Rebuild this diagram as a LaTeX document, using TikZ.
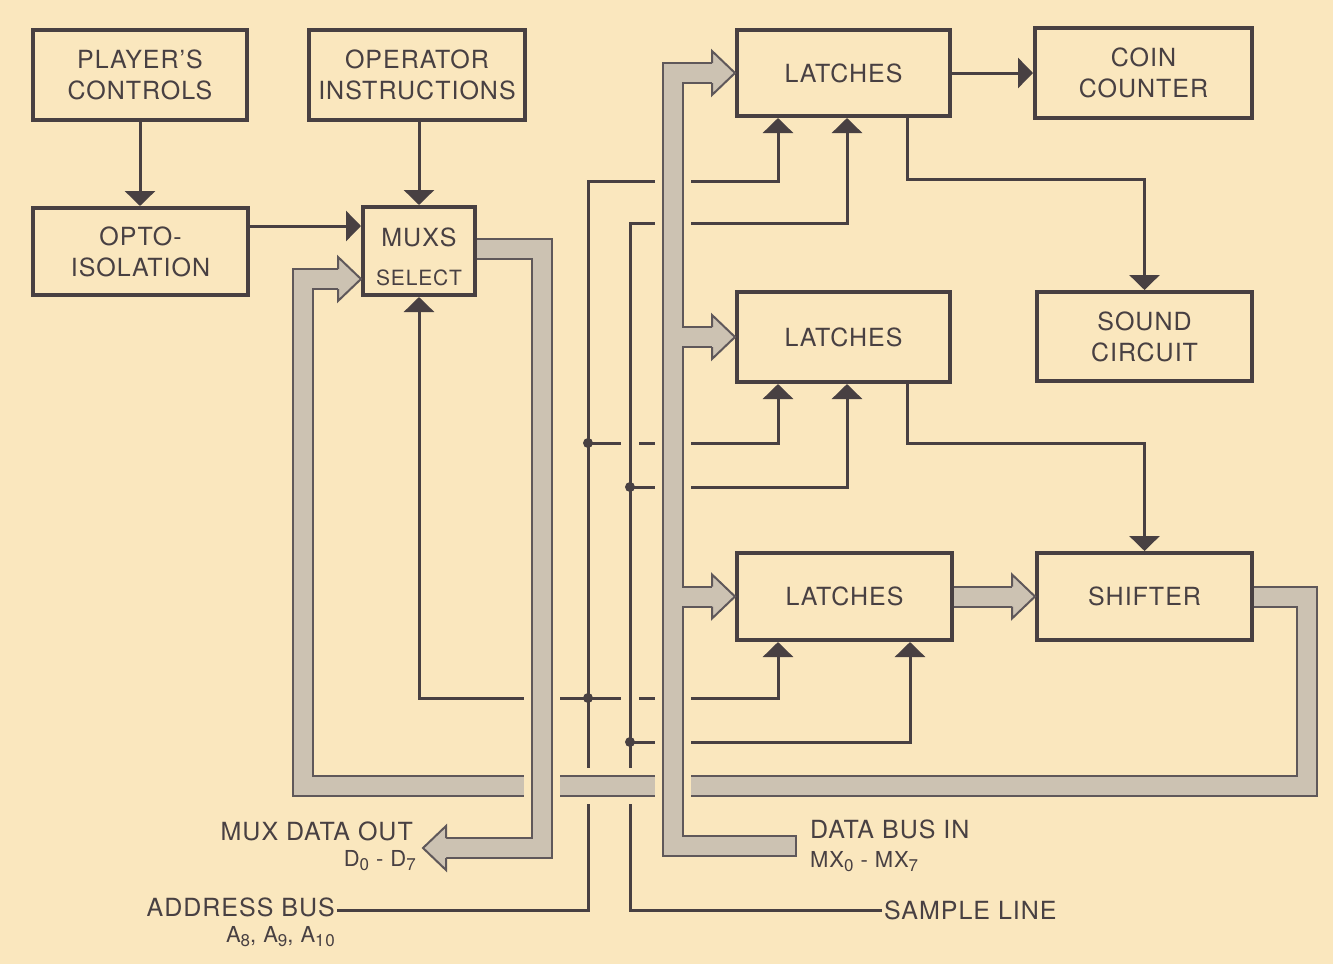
\documentclass[tikz,border=0pt]{standalone}
\usepackage{fontspec}
\setmainfont[LetterSpace=4]{TeX Gyre Heros}
\usetikzlibrary{arrows.meta,calc}
\definecolor{paper}{RGB}{250,231,190}
\definecolor{ink}{RGB}{72,64,66}
\definecolor{busfill}{RGB}{204,194,178}
\definecolor{busedge}{RGB}{95,88,90}
\newcommand\lowidx[1]{\raisebox{-0.35ex}{\fontsize{17}{17}\selectfont #1}}

\tikzset{
  pics/bushead/.style={code={
    \fill[busfill] (0,0) -- (-23,-22) -- (-23,22) -- cycle;
    \draw[busedge, line width=2pt, line join=miter]
      (-23,-10) -- (-23,-22) -- (0,0) -- (-23,22) -- (-23,10);
  }}
}

\begin{document}
\begin{tikzpicture}[x=1pt, y=-1pt, >={Triangle[length=15pt, width=30pt]},
  font=\fontsize{25}{31}\selectfont, text=ink,
  blk/.style={draw=ink, line width=4pt, fill=paper, align=center, inner sep=0pt},
  sig/.style={draw=ink, line width=3pt},
  bus/.style={draw=busfill, line width=18pt, line join=miter,
    preaction={draw=busedge, line width=22pt, line join=miter}},
  knock/.style={draw=paper, line width=36pt},
  lbl/.style={inner sep=2pt},
  sub/.style={inner sep=2pt, font=\fontsize{22}{25}\selectfont}]
  \useasboundingbox (0,0) rectangle (1333,964);
  \fill[paper] (0,0) rectangle (1333,964);

  % boxes
  \node[blk, minimum width=214pt, minimum height=90pt] (players) at (140,75) {PLAYER'S\\CONTROLS};
  \node[blk, minimum width=216pt, minimum height=90pt] (operator) at (417,75) {OPERATOR\\INSTRUCTIONS};
  \node[blk, minimum width=215pt, minimum height=87pt] (opto) at (140.5,251.5) {OPTO-\\ISOLATION};
  \node[blk, minimum width=112pt, minimum height=88pt] (mux) at (419,251) {};
  \node (muxtxt) at (419,237) {MUXS};
  \node[font=\fontsize{21}{24}\selectfont] (seltxt) at (419,278) {SELECT};
  \node[blk, minimum width=213pt, minimum height=86pt] (latchA) at (843.5,73) {LATCHES};
  \node[blk, minimum width=217pt, minimum height=90pt] (coin) at (1143.5,73) {COIN\\COUNTER};
  \node[blk, minimum width=213pt, minimum height=90pt] (latchB) at (843.5,337) {LATCHES};
  \node[blk, minimum width=215pt, minimum height=89pt] (sound) at (1144.5,336.5) {SOUND\\CIRCUIT};
  \node[blk, minimum width=215pt, minimum height=87pt] (latchC) at (844.5,596.5) {LATCHES};
  \node[blk, minimum width=215pt, minimum height=87pt] (shifter) at (1144.5,596.5) {SHIFTER};

  % control lines
  \draw[sig, ->] (players.south) -- (players.south |- opto.north);
  \draw[sig, ->] (operator.south -| mux.north) -- (mux.north);
  \draw[sig, ->] (opto.east |- 0,226) -- (mux.west |- 0,226);
  \draw[sig, ->] (latchA.east) -- (latchA.east -| coin.west);
  \draw[sig, ->] (latchA.south -| 907,0) -- (907,179) -- (sound.north |- 0,179) -- (sound.north);
  \draw[sig, ->] (latchB.south -| 907,0) -- (907,443) -- (shifter.north |- 0,443) -- (shifter.north);

  % address bus
  \node[lbl, anchor=east] (addrlbl) at (337,907) {ADDRESS BUS};
  \node[sub, anchor=north east] (addrsub) at (337,924) {A\lowidx{8}, A\lowidx{9}, A\lowidx{10}};
  \coordinate (adrbot) at (588,910);
  \coordinate (adrtop) at (588,181);
  \draw[sig, ->] (addrlbl.east |- adrbot) -- (adrbot) -- (adrtop) -- (adrtop -| 778,0) -- (latchA.south -| 778,0);
  \draw[sig, ->] (588,443) -- (778,443) -- (latchB.south -| 778,0);
  \draw[sig, <->] (mux.south) -- (mux.south |- 0,698) -- (778,698) -- (latchC.south -| 778,0);

  % sample line
  \node[lbl, anchor=west] (smplbl) at (882,910) {SAMPLE LINE};
  \coordinate (smptop) at (630,223);
  \coordinate (smpbot) at (630,910);
  \draw[knock, line width=18pt] (smptop) -- (smpbot);
  \draw[sig, ->] (smplbl.west) -- (smpbot) -- (smptop) -- (smptop -| 847,0) -- (latchA.south -| 847,0);
  \draw[sig, ->] (630,487) -- (847,487) -- (latchB.south -| 847,0);
  \draw[sig, ->] (630,742) -- (910,742) -- (latchC.south -| 910,0);
  \foreach \p in {(588,443),(630,487),(588,698),(630,742)}
    \fill[ink] \p circle (5);

  % shifter back to mux select
  \coordinate (fbA) at (1307,596.5);
  \coordinate (fbB) at (1307,786);
  \coordinate (fbC) at (303,786);
  \coordinate (fbD) at (303,279);
  \draw[knock] (fbB) -- (fbC);
  \draw[bus] (shifter.east) -- (fbA) -- (fbB) -- (fbC) -- (fbD) -- ($(mux.west |- fbD)+(-22,0)$);
  \pic at (mux.west |- fbD) {bushead};

  % mux data out
  \node[lbl, anchor=east] (outlbl) at (415,831) {MUX DATA OUT};
  \node[sub, anchor=north east] (outsub) at (418,848) {D\lowidx{0} - D\lowidx{7}};
  \coordinate (moA) at (542,249);
  \coordinate (moB) at (542,848);
  \coordinate (motip) at (423,848);
  \draw[knock] (moA) -- (moB);
  \draw[bus] (mux.east |- moA) -- (moA) -- (moB) -- ($(motip)+(22,0)$);
  \pic[rotate=180] at (motip) {bushead};

  % data bus in
  \node[lbl, anchor=west] (inlbl) at (808,829) {DATA BUS IN};
  \node[sub, anchor=north west] (insub) at (808,849) {MX\lowidx{0} - MX\lowidx{7}};
  \coordinate (dbA) at (latchA.west -| 673,0);
  \coordinate (dbB) at (673,846);
  \coordinate (dbend) at (796,846);
  \draw[knock] (dbA) -- (dbB);
  \draw[bus] (dbend) -- (dbB) -- (dbA) -- ($(latchA.west)+(-22,0)$);
  \draw[busedge, line width=2pt] ($(dbend)+(0,-11)$) -- ($(dbend)+(0,11)$);
  \pic at (latchA.west) {bushead};
  \draw[bus] (latchB.west -| 682,0) -- ($(latchB.west)+(-22,0)$);
  \pic at (latchB.west) {bushead};
  \draw[bus] (latchC.west -| 682,0) -- ($(latchC.west)+(-22,0)$);
  \pic at (latchC.west) {bushead};

  % latches to shifter
  \draw[bus] (latchC.east) -- ($(latchC.east -| shifter.west)+(-22,0)$);
  \pic at (latchC.east -| shifter.west) {bushead};
\end{tikzpicture}
\end{document}
